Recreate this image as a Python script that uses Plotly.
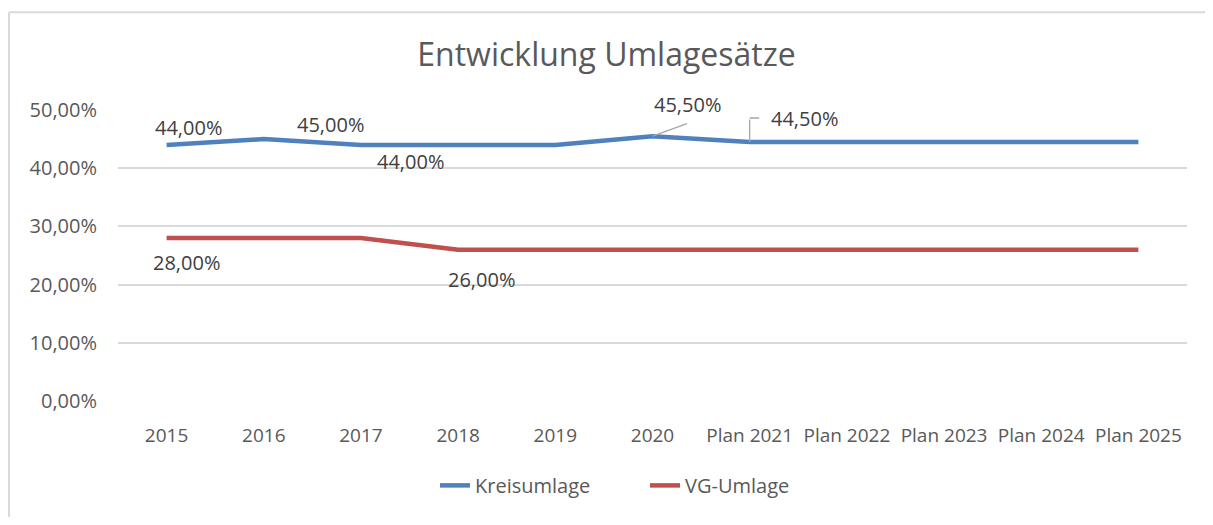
import plotly.graph_objects as go

# chart data
categories = ["2015", "2016", "2017", "2018", "2019", "2020",
              "Plan 2021", "Plan 2022", "Plan 2023", "Plan 2024", "Plan 2025"]
kreisumlage = [44.0, 45.0, 44.0, 44.0, 44.0, 45.5, 44.5, 44.5, 44.5, 44.5, 44.5]
vg_umlage = [28.0, 28.0, 28.0, 26.0, 26.0, 26.0, 26.0, 26.0, 26.0, 26.0, 26.0]

BLUE = "#4F81BD"
RED = "#C0504D"
TXT = "#595959"
GRID = "#D9D9D9"
FONT = "Open Sans"


def pct(v):
    return f"{v:.2f}%".replace(".", ",")


fig = go.Figure()
fig.add_trace(go.Scatter(x=categories, y=[v / 100 for v in kreisumlage],
                         mode="lines", name="Kreisumlage",
                         line=dict(color=BLUE, width=4.5)))
fig.add_trace(go.Scatter(x=categories, y=[v / 100 for v in vg_umlage],
                         mode="lines", name="VG-Umlage",
                         line=dict(color=RED, width=4.5)))

# data labels: (series, index, xshift, yshift); x given as category index
labels = [(kreisumlage, 0, 22, 17), (kreisumlage, 1, 67, 15),
          (kreisumlage, 2, 50, -17), (kreisumlage, 5, 35, 32),
          (kreisumlage, 6, 55, 24),
          (vg_umlage, 0, 20, -24), (vg_umlage, 3, 23, -30)]
for series, i, dx, dy in labels:
    fig.add_annotation(x=i, y=series[i] / 100, text=pct(series[i]),
                       showarrow=False, xshift=dx, yshift=dy,
                       font=dict(family=FONT, size=20, color="#404040"))

# leader lines
fig.add_annotation(x=5, y=kreisumlage[5] / 100, text="",
                   showarrow=True, arrowhead=0, arrowwidth=1.3, arrowcolor="#A6A6A6",
                   ax=36, ay=-13)
fig.add_annotation(x=6, y=kreisumlage[6] / 100, text="",
                   showarrow=True, arrowhead=0, arrowwidth=1.3, arrowcolor="#A6A6A6",
                   ax=0, ay=-24)
fig.add_annotation(x=6, y=kreisumlage[6] / 100, text="", yshift=24,
                   showarrow=True, arrowhead=0, arrowwidth=1.3, arrowcolor="#A6A6A6",
                   ax=11, ay=0)

# outer chart border (top and left visible)
fig.add_shape(type="line", xref="paper", yref="paper", x0=-0.102, x1=1.2,
              y0=1.336, y1=1.336, line=dict(color="#D9D9D9", width=2))
fig.add_shape(type="line", xref="paper", yref="paper", x0=-0.102, x1=-0.102,
              y0=1.336, y1=-0.5, line=dict(color="#D9D9D9", width=2))

fig.update_layout(
    width=1197, height=509,
    margin=dict(l=110, r=18, t=102, b=112),
    paper_bgcolor="white", plot_bgcolor="white",
    separators=",.",
    font=dict(family=FONT, color=TXT),
    title=dict(text="Entwicklung Umlagesätze", x=0.5, xanchor="center",
               y=0.908, yanchor="middle",
               font=dict(family=FONT, size=32, color=TXT)),
    xaxis=dict(type="category", range=[-0.5, len(categories) - 0.5],
               showgrid=False, showline=False,
               ticks="outside", ticklen=17, tickcolor="rgba(0,0,0,0)",
               tickfont=dict(family=FONT, size=19, color=TXT)),
    yaxis=dict(range=[0, 0.5], dtick=0.1, tickformat=".2%",
               gridcolor=GRID, gridwidth=1.5, zeroline=False, showline=False,
               ticks="outside", ticklen=16, tickcolor="rgba(0,0,0,0)",
               tickfont=dict(family=FONT, size=20, color=TXT)),
    legend=dict(orientation="h", x=0.493, xanchor="center", y=-0.29, yanchor="middle",
                entrywidth=165, entrywidthmode="pixels",
                font=dict(family=FONT, size=20, color=TXT)),
    showlegend=True,
)

fig.write_html("out.html")
